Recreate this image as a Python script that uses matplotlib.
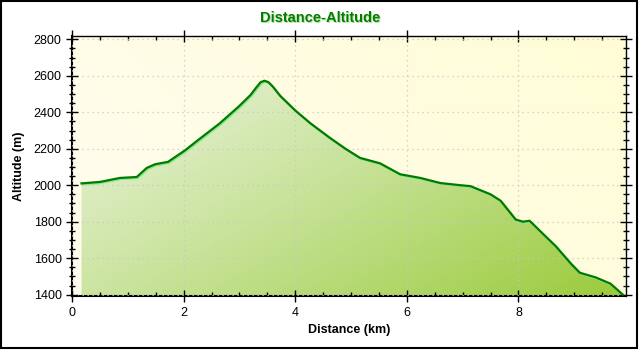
import numpy as np
import matplotlib.pyplot as plt
import matplotlib.transforms as mtransforms
from matplotlib.patches import Polygon, Rectangle
from matplotlib.colors import LinearSegmentedColormap

# track profile: distance (km) and altitude (m)
dist = [0.17, 0.5, 0.86, 1.16, 1.34, 1.49, 1.72, 2.02, 2.29, 2.65, 3.0, 3.2,
        3.3, 3.38, 3.45, 3.52, 3.6, 3.73, 4.0, 4.27, 4.62, 4.9, 5.16, 5.52,
        5.88, 6.24, 6.6, 6.96, 7.14, 7.5, 7.68, 7.95, 8.08, 8.2, 8.4, 8.67,
        8.94, 9.1, 9.38, 9.65, 9.87]
alt = [2010, 2018, 2040, 2045, 2095, 2115, 2128, 2190, 2255, 2340, 2435, 2495,
       2535, 2565, 2573, 2565, 2540, 2490, 2410, 2340, 2260, 2200, 2150, 2120,
       2060, 2040, 2012, 2000, 1995, 1950, 1915, 1812, 1800, 1805, 1745, 1665,
       1570, 1520, 1495, 1460, 1400]

x_ticks = [0, 2, 4, 6, 8]
y_ticks = [1400, 1600, 1800, 2000, 2200, 2400, 2600, 2800]

fig = plt.figure(figsize=(6.4, 3.5), dpi=100)
ax = fig.add_axes([0.1125, 0.154, 0.865, 0.743])
xmin, xmax, ymin, ymax = 0, 9.92, 1392, 2818
ax.set_xlim(xmin, xmax)
ax.set_ylim(ymin, ymax)

# pale yellow background, slightly stronger towards the right
bg = LinearSegmentedColormap.from_list('bg', ['#fffdf0', '#fffcd6'])
gx, gy = np.meshgrid(np.linspace(0, 1, 200), np.linspace(0, 1, 100))
ax.imshow(0.7 * gx + 0.3 * gy, cmap=bg, extent=[xmin, xmax, ymin, ymax],
          origin='lower', aspect='auto', zorder=0)

# green gradient fill under the profile
fill = LinearSegmentedColormap.from_list('fill', ['#f3f7ee', '#c8e39a', '#9bcb3c'])
g = 0.55 * gx + 0.45 * (1 - gy)
im = ax.imshow(g, cmap=fill, extent=[xmin, xmax, ymin, ymax],
               origin='lower', aspect='auto', zorder=1)
poly = Polygon(list(zip(dist, alt)) + [(dist[-1], ymin), (dist[0], ymin)],
               closed=True, facecolor='none', edgecolor='none')
ax.add_patch(poly)
im.set_clip_path(poly)

ax.grid(True, color='#c8c8c8', linestyle=(0, (1, 3)), linewidth=0.9, zorder=0.5)
ax.set_axisbelow(False)

shift = mtransforms.offset_copy(ax.transData, fig=fig, x=0.8, y=-0.8, units='points')
ax.plot(dist, alt, color='#8fe88f', linewidth=1.6, zorder=2, transform=shift)
ax.plot(dist, alt, color='#007a00', linewidth=1.6, zorder=3)

ax.set_xticks(x_ticks)
ax.set_yticks(y_ticks)
ax.set_xticks(np.arange(0, 9.9, 0.5), minor=True)
ax.set_yticks(np.arange(1400, 2801, 50), minor=True)
ax.tick_params(axis='both', which='both', top=True, right=True, labelsize=9,
               colors='black', width=1)
ax.tick_params(axis='y', which='major', direction='inout', length=8)
ax.tick_params(axis='y', which='minor', direction='inout', length=5)
ax.tick_params(axis='x', which='major', direction='inout', length=8)
ax.tick_params(axis='x', which='minor', direction='in', length=3)
for lab in ax.get_xticklabels() + ax.get_yticklabels():
    lab.set_fontfamily('Liberation Sans')
for s in ['top', 'right']:
    ax.spines[s].set_color('black')
    ax.spines[s].set_linewidth(1.0)
for s in ['left', 'bottom']:
    ax.spines[s].set_linewidth(1.5)

ax.set_xlabel('Distance (km)', fontsize=9, fontweight='bold',
              family='Liberation Sans', labelpad=4)
ax.set_ylabel('Altitude (m)', fontsize=9, fontweight='bold',
              family='Liberation Sans', labelpad=6)

fig.text(0.5015, 0.946, 'Distance-Altitude', ha='center', va='center',
         fontsize=10.5, fontweight='bold', color='#b8d8a0', family='Liberation Sans')
fig.text(0.5, 0.949, 'Distance-Altitude', ha='center', va='center',
         fontsize=10.5, fontweight='bold', color='#008000', family='Liberation Sans')

fig.add_artist(Rectangle((0.002, 0.005), 0.993, 0.992, transform=fig.transFigure,
                         fill=False, edgecolor='black', linewidth=1.5))

fig.savefig('out.png', dpi=100)
